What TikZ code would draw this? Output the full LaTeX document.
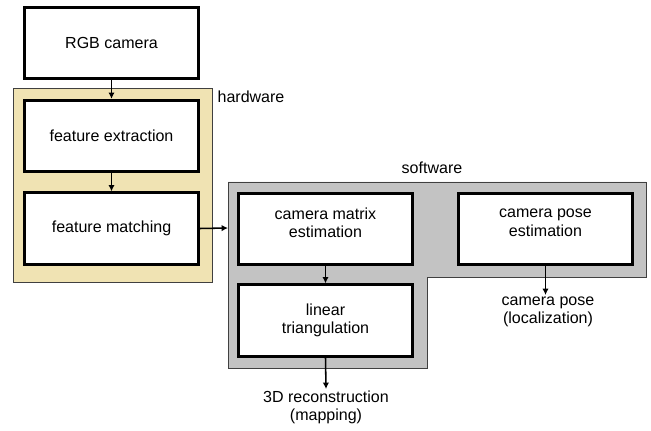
\documentclass[tikz,border=0pt]{standalone}
\usepackage{fontspec}
\setmainfont{Liberation Sans}
\usetikzlibrary{arrows.meta, positioning}

\definecolor{hwfill}{HTML}{F0E3B3}
\definecolor{swfill}{HTML}{C3C3C3}

\tikzset{
	block/.style = {draw, line width = 2.2pt, fill = white, minimum width = 4.35cm, minimum height = 1.78cm, align = center, font = \fontsize{11.4}{13.2}\selectfont},
	region/.style = {draw = black!75, line width = 0.6pt},
	flow/.style = {line width = 1.1pt, -{Latex[length = 4.5pt, width = 4.5pt]}},
	txt/.style = {align = center, font = \fontsize{11.4}{13.2}\selectfont}
}
\newcommand{\lift}{\rule[-9pt]{0pt}{0pt}}

\begin{document}
\begin{tikzpicture}[x = 0.025cm, y = -0.025cm]
\useasboundingbox (0, 0) rectangle (651, 431);

% regions
\draw[region, fill = hwfill] (13, 88) rectangle (212, 282);
\draw[region, fill = swfill]
	(228, 182) --
	(646, 182) --
	(646, 277) --
	(427, 277) --
	(427, 368) --
	(228, 368) -- cycle;
\coordinate (swL) at (228, 228);
\node[txt] (hw) at (251, 97) {hardware};
\node[txt] (sw) at (432, 168) {software};

% blocks
\node[block] (rgb) at (111.5, 43) {RGB camera};
\node[block] (extract) at (111.5, 136) {feature extraction};
\node[block] (match) at (111.5, 228.5) {feature matching};
\node[block] (cammat) at (325.5, 229) {camera matrix\\estimation\lift};
\node[block] (campose) at (545.5, 229) {camera pose\\estimation\lift};
\node[block] (lintri) at (325.5, 320.5) {linear\\triangulation};

% outputs
\node[txt, anchor = north, inner sep = 1pt] (recon) at (326, 389) {3D reconstruction\\(mapping)};
\node[txt, anchor = north, inner sep = 1pt] (poseout) at (548, 295) {camera pose\\(localization)};

% arrows
\draw[flow] (rgb) -- (extract);
\draw[flow] (extract) -- (match);
\draw[flow] (match.east) -- (swL);
\draw[flow] (cammat) -- (lintri);
\draw[flow] (lintri.south) -- (recon.north);
\draw[flow] (campose.south) -- (campose.south |- poseout.north);
\end{tikzpicture}
\end{document}
